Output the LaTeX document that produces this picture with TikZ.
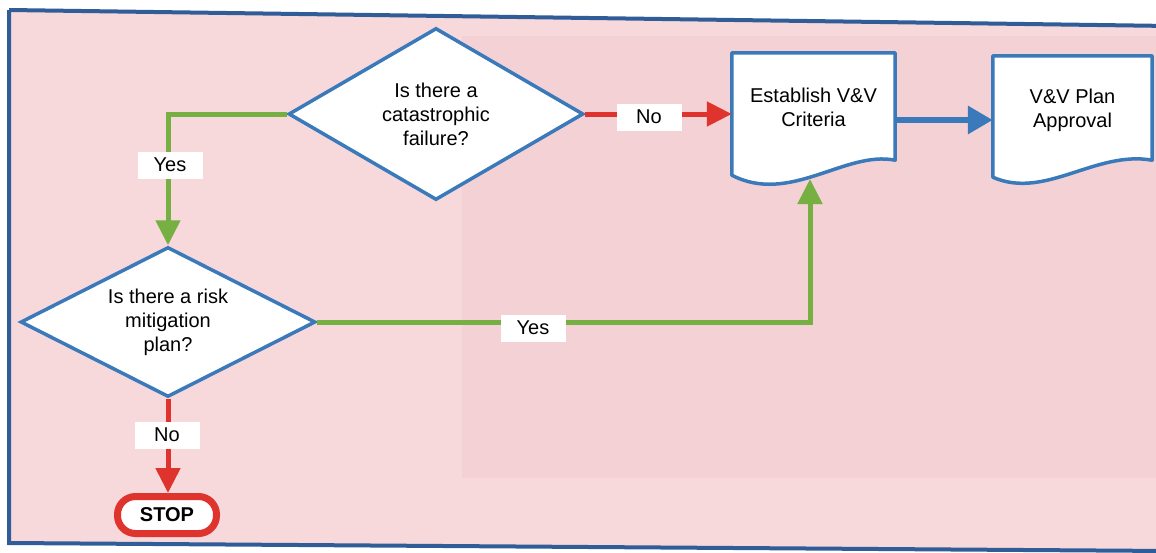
\documentclass[tikz,border=0pt]{standalone}
\usepackage{fontspec}
\setmainfont{Liberation Sans}
\usetikzlibrary{shapes.geometric,arrows.meta,calc,backgrounds}

\definecolor{pagepink}{RGB}{247,216,219}
\definecolor{panelpink}{RGB}{244,209,213}
\definecolor{frameblue}{RGB}{48,92,152}
\definecolor{flowblue}{RGB}{58,122,186}
\definecolor{flowgreen}{RGB}{118,176,67}
\definecolor{flowred}{RGB}{222,52,45}

\begin{document}
\begin{tikzpicture}[x=1pt,y=-1pt,
  every node/.style={font=\fontsize{20}{24}\selectfont},
  decision/.style={diamond, draw=flowblue, line width=3.5pt, fill=white,
    aspect=1.7, inner sep=0pt, align=center,
    minimum width=295pt, minimum height=172pt},
  docbox/.style={rectangle, inner sep=0pt, align=center},
  docline/.style={draw=flowblue, line width=3.5pt, fill=white, line join=round},
  stopbox/.style={rectangle, rounded corners=18pt, draw=flowred, line width=7pt,
    fill=white, minimum width=99pt, minimum height=37pt,
    font=\fontsize{20}{24}\selectfont\bfseries},
  tag/.style={fill=white, inner sep=0pt, minimum width=65pt, minimum height=27pt},
  yesline/.style={draw=flowgreen, line width=5pt,
    -{Triangle[length=25pt,width=24pt]}},
  noline/.style={draw=flowred, line width=5pt,
    -{Triangle[length=25pt,width=24pt]}},
  goline/.style={draw=flowblue, line width=6.5pt,
    -{Triangle[length=25pt,width=27pt]}},
]
\useasboundingbox (0,0) rectangle (1156,552);

% page frame
\coordinate (ftl) at (9,10);
\coordinate (ftr) at (1170,26);
\coordinate (fbr) at (1170,551);
\coordinate (fbl) at (9,543);

% decisions
\node[decision] (q1) at (436,114) {Is there a\\catastrophic\\failure?};
\node[decision, minimum height=150pt] (q2) at (168,322) {Is there a risk\\mitigation\\plan?};

% documents
\node[docbox, minimum width=163pt, minimum height=108pt] (crit) at (813.5,107)
  {Establish V\&V\\Criteria};
\node[docbox, minimum width=159pt, minimum height=109pt] (appr) at (1072.5,110.5)
  {V\&V Plan\\Approval};

% terminator
\node[stopbox] (stop) at (167,515) {STOP};

% background, frame and document outlines
\begin{scope}[on background layer]
  \fill[pagepink] (ftl) -- (ftr) -- (fbr) -- (fbl) -- cycle;
  \fill[panelpink] (462,36) rectangle (1160,478);
  \draw[frameblue, line width=4pt, line join=miter] (ftl) -- (ftr) (fbr) -- (fbl) -- (ftl);
  \draw[docline] (crit.north west) -- (crit.north east)
    -- ($(crit.south east)+(0,-1)$)
    .. controls ($(crit.south east)+(-50,-11)$) and ($(crit.south west)+(58,44)$)
    .. ($(crit.south west)+(0,14)$) -- cycle;
  \draw[docline] (appr.north west) -- (appr.north east)
    -- ($(appr.south east)+(0,-5)$)
    .. controls ($(appr.south east)+(-57,-15)$) and ($(appr.south west)+(52,35)$)
    .. ($(appr.south west)+(0,12)$) -- cycle;
\end{scope}

% connector end points
\coordinate (critin) at (810,179);
\coordinate (critout) at ($(crit.east)+(0,13)$);

% connectors
\draw[yesline] (q1.west) -| (q2.north);
\draw[noline] (q1.east) -- (q1.east -| crit.west);
\draw[goline] (critout) -- (critout -| appr.west);
\draw[yesline] (q2.east) -| (critin);
\draw[noline] (q2.south) -- (q2.south |- stop.north);

% connector labels
\node[tag] (yes1) at (170,165) {Yes};
\node[tag] (no1) at (649,117) {No};
\node[tag] (yes2) at (533,328) {Yes};
\node[tag] (no2) at (167,435) {No};
\end{tikzpicture}
\end{document}
